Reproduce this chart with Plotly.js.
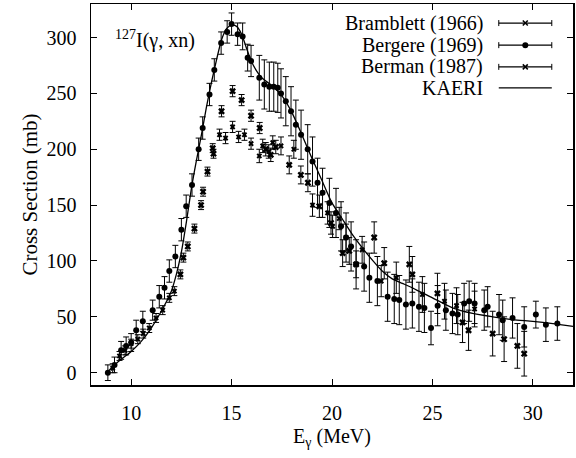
<!DOCTYPE html>
<html><head><meta charset="utf-8">
<script src="https://cdn.plot.ly/plotly-3.0.1.min.js"></script>
<style>html,body{margin:0;padding:0;background:#fff}</style>
</head><body><div id="chart" style="width:576px;height:458px"></div>
<script>
// KAERI evaluation (line)
const kaeriE = [8.8, 9.0, 9.5, 10, 10.5, 11, 11.5, 12, 12.25, 12.5, 12.75, 13, 13.25, 13.5, 13.75, 14, 14.25, 14.5, 14.75, 15, 15.25, 15.5, 15.75, 16, 16.25, 16.5, 17, 17.5, 18, 18.5, 19, 19.5, 20, 20.5, 21, 21.5, 22, 22.5, 23, 23.5, 24, 25, 26, 27, 28, 29, 30, 31, 32];
const kaeriS = [0, 4, 12, 19, 28, 40, 55, 73, 88, 108, 135, 165, 190, 213, 238, 260, 280, 298, 308, 311, 310, 303, 290, 278, 270, 264, 257, 248, 233, 213, 192, 172, 152, 138, 124, 112, 101, 91, 84, 80, 76, 67, 58, 53, 50, 47.5, 46, 44, 41.5];

// Bergere (1969)
const bergE = [8.84, 9.17, 9.5, 9.75, 10.0, 10.25, 10.58, 11.07, 11.4, 11.66, 11.9, 12.2, 12.5, 12.74, 13.03, 13.36, 13.56, 13.9, 14.14, 14.48, 14.78, 15.0, 15.3, 15.55, 15.8, 15.97, 16.38, 16.63, 16.88, 17.1, 17.3, 17.46, 17.7, 17.96, 18.2, 18.46, 18.79, 19.03, 19.28, 19.53, 19.87, 20.2, 20.45, 20.7, 20.95, 21.2, 21.6, 21.86, 22.26, 22.77, 23.1, 23.35, 23.68, 24.0, 24.33, 24.6, 24.93, 25.26, 25.67, 26.0, 26.26, 26.58, 26.83, 27.1, 27.58, 27.75, 28.32, 28.5, 28.99, 29.57, 30.15, 30.65, 31.22];
const bergS = [0, 7, 20, 24, 27, 38, 46, 56, 68, 76, 91, 104, 128, 149, 168, 200, 219, 249, 271, 295, 305, 312, 303, 301, 282, 279, 264, 258, 256, 256, 255, 250, 243, 234, 222, 213, 200, 189, 170, 161, 152, 143, 131, 121, 113, 97, 95, 85, 82, 68, 66, 65, 61, 62, 59, 58, 40, 60, 56, 53, 52, 62, 64, 62, 56, 59, 52, 47, 49, 41, 52, 43, 44];
const bergErr = [7, 7, 8, 8, 8, 9, 9, 9, 10, 10, 10, 10, 10, 10, 10, 10, 10, 10, 10, 10, 10, 10, 10, 12, 12, 14, 20, 22, 22, 22, 22, 22, 22, 22, 22, 22, 22, 22, 22, 22, 22, 22, 22, 22, 22, 22, 22, 22, 22, 22, 22, 22, 22, 22, 22, 22, 15, 18, 18, 18, 18, 18, 18, 18, 18, 18, 18, 18, 18, 18, 12, 15, 15];

// Bramblett (1966)
const bramE = [12.45, 12.6, 12.82, 13.15, 13.48, 13.58, 13.8, 14.06, 14.1, 14.5, 15.05, 15.5, 15.97, 16.4, 16.7, 16.95, 17.2, 17.87, 18.45, 18.8, 19.37, 19.95, 20.53, 20.86, 21.2, 22.1, 22.6, 23.85, 24.0, 25.25, 26.5, 26.8, 28.0, 28.57, 29.23, 29.57];
const bramS = [88, 103, 113, 129, 150, 162, 180, 201, 196, 234, 252, 244, 230, 219, 200, 195, 202, 186, 177, 170, 149, 134, 107, 109, 97, 121, 98, 97, 88, 71, 45, 38, 35, 30, 24, 17];
const bramErr = [4, 4, 4, 4, 4, 4, 4, 4, 4, 5, 5, 5, 5, 5, 6, 6, 6, 8, 8, 8, 10, 10, 12, 12, 12, 14, 14, 16, 16, 18, 18, 18, 20, 20, 20, 20];

// Berman (1987)
const bermE = [9.08, 9.42, 9.7, 10.0, 10.33, 10.6, 10.9, 11.24, 11.57, 11.9, 12.15, 14.4, 14.7, 15.05, 15.35, 15.64, 15.97, 16.38, 16.55, 16.85, 17.05, 17.46, 18.1, 19.03, 19.78, 20.03, 20.36, 20.7, 21.5, 22.45, 23.2, 24.5, 25.6, 26.2, 27.1];
const bermS = [4, 15, 20, 26, 30, 35, 40, 49, 56, 67, 73, 213, 210, 220, 211, 213, 205, 194, 203, 198, 206, 203, 200, 150, 143, 131, 138, 121, 110, 82, 85, 70, 64, 60, 57];
const bermErr = [4, 4, 4, 4, 4, 4, 4, 4, 4, 4, 4, 5, 5, 5, 5, 5, 5, 6, 6, 6, 6, 8, 8, 10, 10, 10, 10, 12, 12, 14, 14, 16, 16, 16, 16];

const legendNames = ['Bramblett (1966)', 'Bergere (1969)', 'Berman (1987)', 'KAERI'];
const legendKinds = ['x', 'dot', 'x', 'line'];

const xTicks = [10, 15, 20, 25, 30];
const yTicks = [0, 50, 100, 150, 200, 250, 300];

const FONT = 'Liberation Serif';

function errBar(arr) {
  return {type: 'data', array: arr, visible: true, width: 3, thickness: 1, color: '#000'};
}

const traces = [
  {x: kaeriE, y: kaeriS, mode: 'lines', line: {color: '#000', width: 1.3, shape: 'spline', smoothing: 0.6}, showlegend: false, hoverinfo: 'skip'},
  {x: bergE, y: bergS, mode: 'markers', marker: {symbol: 'circle', size: 6, color: '#000'}, error_y: errBar(bergErr), showlegend: false},
  {x: bramE, y: bramS, mode: 'markers', marker: {symbol: 'x', size: 6, color: '#000'}, error_y: errBar(bramErr), showlegend: false},
  {x: bermE, y: bermS, mode: 'markers', marker: {symbol: 'x', size: 5, color: '#000'}, error_y: errBar(bermErr), showlegend: false}
];

// legend drawn as annotations + paper-referenced shapes (sample to the right of text)
const annotations = [{
  xref: 'paper', yref: 'paper', x: 0.046, y: 0.906, xanchor: 'left', yanchor: 'middle',
  text: '<sup>127</sup>I(γ, xn)', showarrow: false, font: {family: FONT, size: 20, color: '#000'}
}];
const shapes = [];
const rowY = [0.950, 0.892, 0.835, 0.780];
const lx0 = 0.846, lx1 = 0.956, lxm = (lx0 + lx1) / 2;
const px = 1 / 482, py = 1 / 381;
legendNames.forEach((name, i) => {
  const y = rowY[i];
  annotations.push({xref: 'paper', yref: 'paper', x: 0.817, y: y, xanchor: 'right', yanchor: 'middle',
    text: name, showarrow: false, font: {family: FONT, size: 20, color: '#000'}});
  shapes.push({type: 'line', xref: 'paper', yref: 'paper', x0: lx0, x1: lx1, y0: y, y1: y, line: {color: '#000', width: 1.2}});
  const k = legendKinds[i];
  if (k !== 'line') {
    [lx0, lx1].forEach(xx => shapes.push({type: 'line', xref: 'paper', yref: 'paper', x0: xx, x1: xx, y0: y - 3 * py, y1: y + 3 * py, line: {color: '#000', width: 1}}));
  }
  if (k === 'dot') {
    shapes.push({type: 'circle', xref: 'paper', yref: 'paper', x0: lxm - 3 * px, x1: lxm + 3 * px, y0: y - 3 * py, y1: y + 3 * py, fillcolor: '#000', line: {color: '#000', width: 0}});
  } else if (k === 'x') {
    shapes.push({type: 'line', xref: 'paper', yref: 'paper', x0: lxm - 2.5 * px, x1: lxm + 2.5 * px, y0: y - 2.5 * py, y1: y + 2.5 * py, line: {color: '#000', width: 1.5}});
    shapes.push({type: 'line', xref: 'paper', yref: 'paper', x0: lxm - 2.5 * px, x1: lxm + 2.5 * px, y0: y + 2.5 * py, y1: y - 2.5 * py, line: {color: '#000', width: 1.5}});
  }
});

const axisCommon = {
  showline: true, linecolor: '#000', linewidth: 1.5, mirror: 'ticks',
  ticks: 'inside', ticklen: 6, tickwidth: 1, tickcolor: '#000',
  showgrid: false, zeroline: false,
  tickfont: {family: FONT, size: 20, color: '#000'}
};

const layout = {
  width: 576, height: 458,
  margin: {l: 91, r: 3, t: 4, b: 73},
  paper_bgcolor: '#fff', plot_bgcolor: '#fff',
  font: {family: FONT, color: '#000'},
  showlegend: false,
  xaxis: Object.assign({}, axisCommon, {
    range: [8, 32], tickvals: xTicks, ticktext: xTicks.map(String), ticklabelstandoff: 9,
    title: {text: 'E<sub>γ</sub> (MeV)', font: {family: FONT, size: 20, color: '#000'}, standoff: 6}
  }),
  yaxis: Object.assign({}, axisCommon, {
    range: [-11, 330], tickvals: yTicks, ticktext: yTicks.map(String), ticklabelstandoff: 9,
    title: {text: 'Cross Section (mb)', font: {family: FONT, size: 21, color: '#000'}, standoff: 3}
  }),
  annotations: annotations,
  shapes: shapes
};

Plotly.newPlot('chart', traces, layout, {displayModeBar: false, staticPlot: true});
</script></body></html>
